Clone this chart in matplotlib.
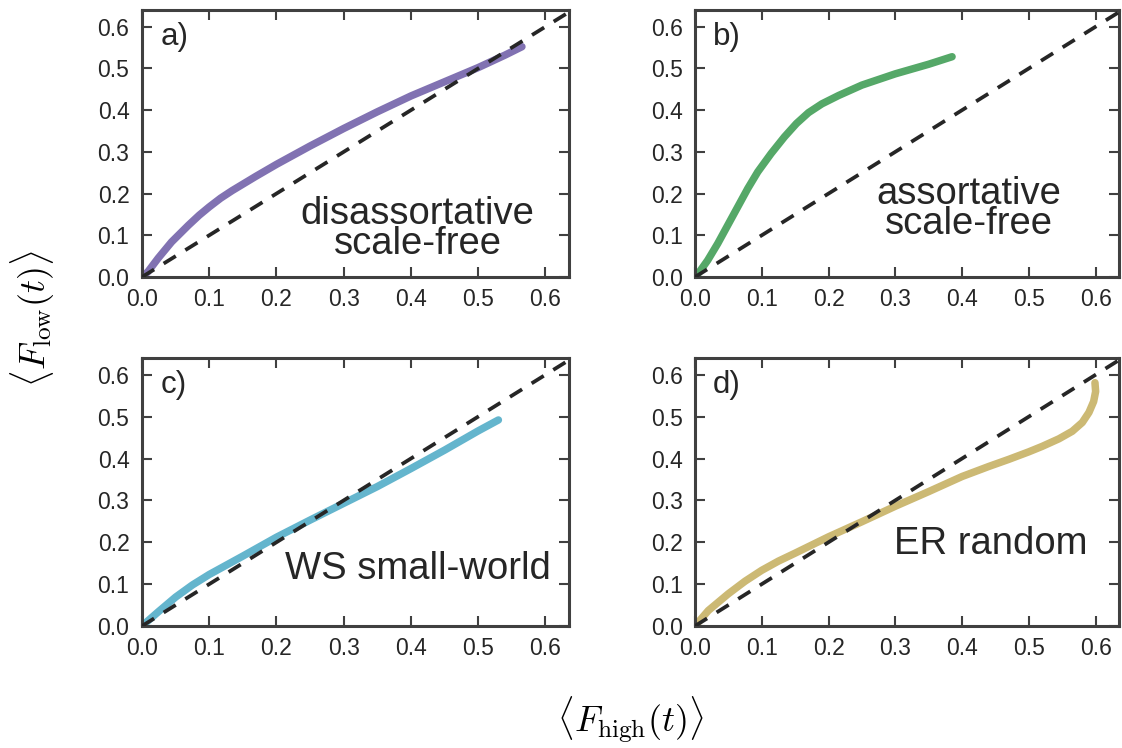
import matplotlib
matplotlib.use("Agg")
import matplotlib.pyplot as plt
import numpy as np

plt.rcParams['font.family'] = ['Liberation Sans', 'DejaVu Sans']
plt.rcParams['mathtext.fontset'] = 'cm'

# mean fraction of high / low degree nodes reached
high_a = [0.0, 0.009, 0.024, 0.044, 0.069, 0.085, 0.10, 0.117, 0.134, 0.169, 0.20, 0.25, 0.30, 0.35, 0.40, 0.45, 0.50, 0.54, 0.565]
low_a = [0.0, 0.013, 0.045, 0.084, 0.124, 0.148, 0.168, 0.189, 0.207, 0.241, 0.27, 0.314, 0.356, 0.396, 0.434, 0.468, 0.502, 0.532, 0.552]

high_b = [0.0, 0.0065, 0.019, 0.034, 0.049, 0.064, 0.079, 0.094, 0.114, 0.134, 0.152, 0.17, 0.19, 0.215, 0.25, 0.30, 0.35, 0.385]
low_b = [0.0, 0.012, 0.04, 0.08, 0.124, 0.168, 0.212, 0.252, 0.296, 0.336, 0.368, 0.394, 0.415, 0.435, 0.46, 0.487, 0.51, 0.528]

high_c = [0.0, 0.01, 0.025, 0.05, 0.075, 0.10, 0.15, 0.20, 0.25, 0.30, 0.35, 0.40, 0.45, 0.50, 0.53]
low_c = [0.0, 0.014, 0.035, 0.069, 0.098, 0.123, 0.167, 0.212, 0.253, 0.293, 0.333, 0.376, 0.42, 0.466, 0.492]

high_d = [0.0, 0.02, 0.05, 0.075, 0.10, 0.125, 0.15, 0.20, 0.25, 0.30, 0.35, 0.40, 0.44, 0.47, 0.50, 0.52, 0.545, 0.565, 0.58, 0.59, 0.597, 0.60, 0.599]
low_d = [0.0, 0.037, 0.077, 0.107, 0.133, 0.155, 0.174, 0.213, 0.249, 0.286, 0.321, 0.357, 0.381, 0.398, 0.416, 0.429, 0.447, 0.465, 0.486, 0.51, 0.536, 0.56, 0.581]

panels = [
    ("a)", "disassortative\nscale-free", high_a, low_a, "#8172B2", (0.41, 0.115)),
    ("b)", "assortative\nscale-free", high_b, low_b, "#55A868", (0.41, 0.163)),
    ("c)", "WS small-world", high_c, low_c, "#64B5CD", (0.41, 0.136)),
    ("d)", "ER random", high_d, low_d, "#CCB974", (0.443, 0.196)),
]

fig = plt.figure(figsize=(11.22, 7.48), dpi=100)
W, H = 1122.0, 748.0
boxes = [(142, 10, 569, 277), (695, 10, 1119, 277),
         (142, 358, 569, 626), (695, 358, 1119, 626)]

ticks = [0.0, 0.1, 0.2, 0.3, 0.4, 0.5, 0.6]
for (lab, name, xs, ys, col, pos), (x0, y0, x1, y1) in zip(panels, boxes):
    ax = fig.add_axes([x0 / W, 1 - y1 / H, (x1 - x0) / W, (y1 - y0) / H])
    ax.plot([0, 0.7], [0, 0.7], ls=(0, (3.8, 3.0)), color="#262626", lw=2.7, zorder=3)
    ax.plot(xs, ys, color=col, lw=5.4, solid_capstyle="round",
            solid_joinstyle="round", zorder=2)
    ax.set_xlim(0, 0.635)
    ax.set_ylim(0, 0.64)
    ax.set_xticks(ticks)
    ax.set_yticks(ticks)
    ax.set_xticklabels(["%.1f" % t for t in ticks])
    ax.set_yticklabels(["%.1f" % t for t in ticks])
    ax.tick_params(direction="in", length=7, width=1.5, color="#404040",
                   labelsize=16.5, labelcolor="#262626", top=True, right=True)
    ax.tick_params(axis="x", pad=8)
    ax.tick_params(axis="y", pad=9)
    for s in ax.spines.values():
        s.set_linewidth(2.2)
        s.set_color("#404040")
    ax.text(0.027, 0.575, lab, fontsize=22.5, color="#262626", ha="left", va="center")
    ax.text(pos[0], pos[1], name, fontsize=27.5, color="#262626", ha="center",
            va="center", linespacing=0.8)

fig.text(33 / W, 1 - 318 / H, r"$\langle F_{\rm low}(t)\rangle$", fontsize=26,
         rotation=90, ha="center", va="center")
fig.text(630 / W, 1 - 720 / H, r"$\langle F_{\rm high}(t)\rangle$", fontsize=26,
         ha="center", va="center")

fig.savefig("out.png", dpi=100)
